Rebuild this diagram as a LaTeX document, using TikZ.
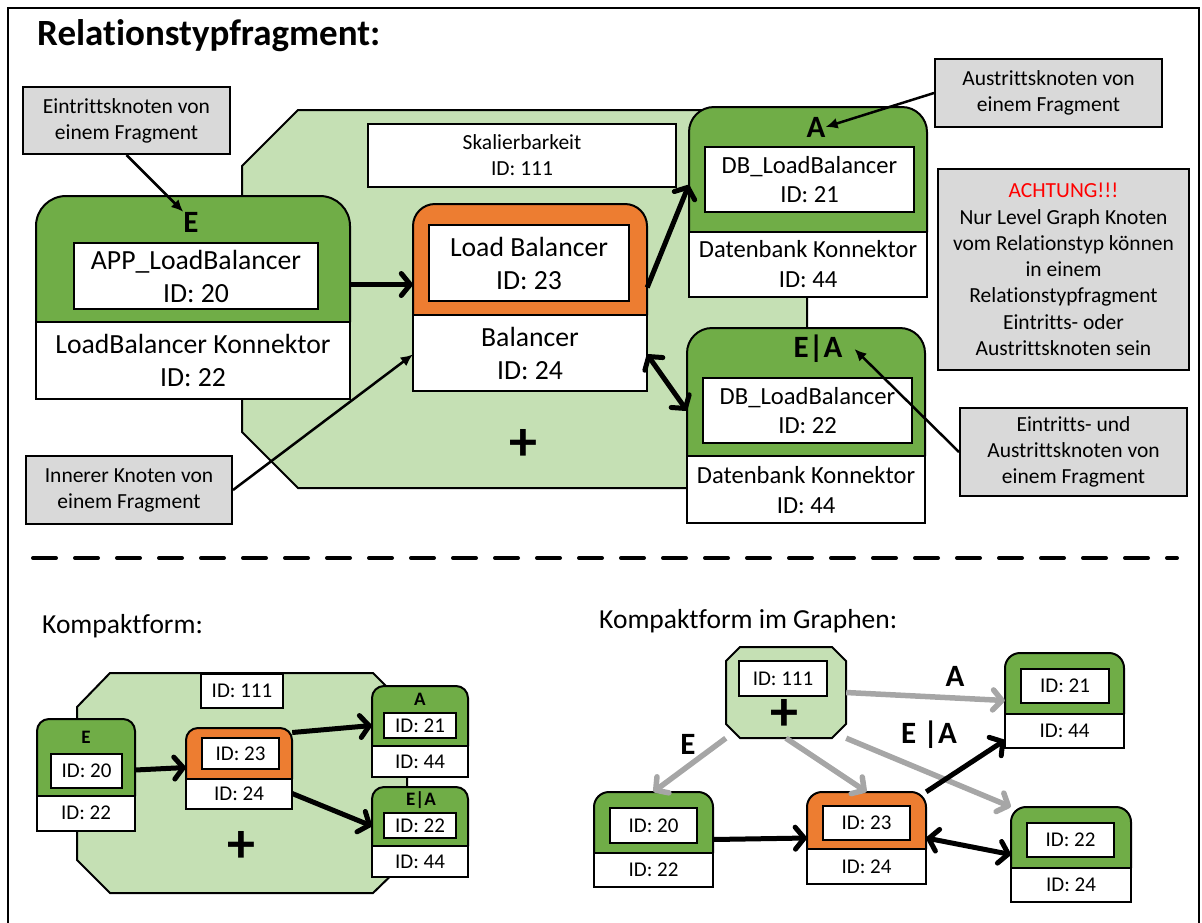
\documentclass[tikz,border=0pt]{standalone}
\usepackage{fontspec}
\setmainfont{Carlito}[Ligatures=NoCommon]
\usetikzlibrary{arrows.meta,fit}

\definecolor{fraggreen}{HTML}{70AD47}
\definecolor{fraglight}{HTML}{C5E0B4}
\definecolor{fragorange}{HTML}{ED7D31}
\definecolor{notegray}{HTML}{D9D9D9}
\definecolor{edgegray}{HTML}{A6A6A6}
\definecolor{warnred}{HTML}{FF0000}

% typed node: coloured head with rounded top corners, white foot
% #1 name, #2 left, #3 top, #4 right, #5 bottom, #6 split, #7 head colour, #8 radius
\newcommand\typenode[8]{%
  \fill[#7, rounded corners=#8pt] (#2,#5) -- (#2,#3) -- (#4,#3) -- (#4,#5) -- cycle;
  \fill[white] (#2,#6) rectangle (#4,#5);
  \draw[outline, rounded corners=#8pt] (#2,#6) -- (#2,#3) -- (#4,#3) -- (#4,#6);
  \draw[outline] (#2,#6) rectangle (#4,#5);
  \node[fit={(#2,#3) (#4,#5)}, inner sep=0pt] (#1) {};
}

\begin{document}
\begin{tikzpicture}[x=1pt,y=-1pt,
  outline/.style={draw=black, line width=2pt},
  box/.style={draw=black, line width=2pt, fill=white, inner sep=0pt, align=center},
  note/.style={draw=black, line width=2pt, fill=notegray, inner sep=0pt, align=center,
               font=\fontsize{21.5}{26}\selectfont},
  txtL/.style={font=\fontsize{27.7}{33}\selectfont, align=center, inner sep=0pt},
  txtM/.style={font=\fontsize{24.6}{29.5}\selectfont, align=center, inner sep=0pt},
  txtS/.style={font=\fontsize{21}{25}\selectfont, align=center, inner sep=0pt},
  tag/.style={font=\fontsize{31}{31}\selectfont\bfseries, inner sep=0pt},
  ctag/.style={font=\fontsize{19}{19}\selectfont\bfseries, inner sep=0pt},
  plus/.style={font=\fontsize{56}{56}\selectfont\bfseries, inner sep=0pt},
  hint/.style={line width=2.5pt, -{Latex[length=12pt,width=11pt]}},
  link/.style={line width=5pt, -{Straight Barb[round,length=9pt,width=22pt]}},
  linkboth/.style={line width=5pt, {Straight Barb[round,length=9pt,width=22pt]}-{Straight Barb[round,length=9pt,width=22pt]}},
  greylink/.style={draw=edgegray, line width=5.5pt, -{Straight Barb[round,length=9pt,width=20pt]}},
]
\useasboundingbox (0,0) rectangle (1202,922);

% frame
\draw[line width=2pt] (8,930) -- (8,8) -- (1199,8) -- (1199,930);

\node[anchor=base west, inner sep=0pt, font=\fontsize{37}{44}\selectfont\bfseries] (title) at (37,45) {Relationstypfragment:};

% ---------------- relation type fragment ----------------
\draw[outline, fill=fraglight] (298,110) -- (751,110) -- (807,166) -- (807,432) -- (751,488)
  -- (298,488) -- (242,432) -- (242,166) -- cycle;
\node[box, line width=1.5pt, minimum width=308pt, minimum height=63pt,
      font=\fontsize{21.5}{26}\selectfont] (skal) at (522,155.5) {Skalierbarkeit\\ID: 111};
\node[plus] (bigplus) at (523,445) {+};

\typenode{enode}{36}{196}{350}{399}{322}{fraggreen}{30}
\node[tag] (elab) at (191,222) {E};
\node[box, txtL, minimum width=244pt, minimum height=66pt] (einner) at (196,276) {APP\_LoadBalancer\\ID: 20};
\node[txtL] (ebottom) at (193,360) {LoadBalancer Konnektor\\ID: 22};

\typenode{lbnode}{413}{204}{647}{391}{315}{fragorange}{22}
\node[box, txtL, minimum width=200pt, minimum height=76pt] (lbinner) at (529,263) {Load Balancer\\ID: 23};
\node[txtL] (lbbottom) at (530,353) {Balancer\\ID: 24};

\typenode{anode}{689}{107}{927}{297}{232}{fraggreen}{25}
\node[tag] (alab) at (816,127) {A};
\node[box, txtM, minimum width=209pt, minimum height=65pt] (ainner) at (809.5,179.5) {DB\_LoadBalancer\\ID: 21};
\node[txtM] (abottom) at (808,264) {Datenbank Konnektor\\ID: 44};

\typenode{eanode}{687}{328}{925}{523}{456}{fraggreen}{25}
\node[tag] (ealab) at (818,349) {E|A};
\node[box, txtM, minimum width=209pt, minimum height=65pt] (eainner) at (807.5,410.5) {DB\_LoadBalancer\\ID: 22};
\node[txtM] (eabottom) at (806,490) {Datenbank Konnektor\\ID: 44};

% notes
\node[note, minimum width=207pt, minimum height=67pt] (noteentry) at (126.5,120.5) {Eintrittsknoten von\\einem Fragment};
\node[note, minimum width=227pt, minimum height=68pt] (noteexit) at (1048.5,93) {Austrittsknoten von\\einem Fragment};
\node[note, minimum width=206pt, minimum height=68pt] (noteinner) at (129,490) {Innerer Knoten von\\einem Fragment};
\node[note, minimum width=227pt, minimum height=88pt] (noteboth) at (1073.5,452) {Eintritts- und\\Austrittsknoten von\\einem Fragment};
\node[note, minimum width=251pt, minimum height=201pt, font=\fontsize{21.5}{26.3}\selectfont] (notewarn) at (1063.5,269.5)
  {\textcolor{warnred}{ACHTUNG!!!}\\Nur Level Graph Knoten\\vom Relationstyp können\\in einem\\Relationstypfragment\\Eintritts- oder\\Austrittsknoten sein};

% connectors
\draw[link] ([yshift=13pt]enode.east) -- ([yshift=13pt]lbnode.west);
\draw[link] ([yshift=10pt]lbnode.east) -- ([yshift=17pt]anode.west);
\draw[linkboth] ([yshift=-57pt]lbnode.east) -- ([yshift=15pt]eanode.west);
\draw[hint] (noteentry.south) -- (elab.north west);
\draw[hint] (noteexit.west) -- (alab.east);
\draw[hint] (noteinner.east) -- ([yshift=-57pt]lbnode.west);
\draw[hint] (noteboth.west) -- ([xshift=12pt]ealab.east);

% separator
\coordinate (sepL) at (33,558);
\coordinate (sepR) at (1177,558);
\draw[line width=4pt, line cap=round, dash pattern=on 23pt off 19pt] (sepL) -- (sepR);

% ---------------- compact form ----------------
\node[anchor=base west, inner sep=0pt, font=\fontsize{27.5}{33}\selectfont] (ktitle) at (42,633) {Kompaktform:};

\draw[outline, fill=fraglight] (110,673) -- (373,673) -- (407,707) -- (407,860) -- (373,893)
  -- (110,893) -- (77,860) -- (77,707) -- cycle;
\node[box, txtS, minimum width=82pt, minimum height=34pt] (cskal) at (242,691) {ID: 111};
\node[plus] (cplus) at (241,847) {+};

\typenode{cE}{37}{719}{135}{831}{796}{fraggreen}{12}
\node[ctag] (cElab) at (86,737) {E};
\node[box, txtS, minimum width=71pt, minimum height=34pt] (cEin) at (86.5,771) {ID: 20};
\node[txtS] (cEbot) at (86,813) {ID: 22};

\typenode{cLB}{186}{728}{292}{809}{779}{fragorange}{12}
\node[box, txtS, minimum width=77pt, minimum height=31pt] (cLBin) at (240.5,753.5) {ID: 23};
\node[txtS] (cLBbot) at (239,794) {ID: 24};

\typenode{cA}{372}{686}{468}{777}{746}{fraggreen}{12}
\node[ctag] (cAlab) at (420,699) {A};
\node[box, txtS, minimum width=72pt, minimum height=25pt] (cAin) at (420,725.5) {ID: 21};
\node[txtS] (cAbot) at (420,762) {ID: 44};

\typenode{cEA}{372}{787}{468}{877}{846}{fraggreen}{12}
\node[ctag] (cEAlab) at (421,800) {E|A};
\node[box, txtS, minimum width=72pt, minimum height=25pt] (cEAin) at (420,825.5) {ID: 22};
\node[txtS] (cEAbot) at (420,862) {ID: 44};

\draw[link] ([yshift=5pt]cE.east) -- ([yshift=1pt]cLB.west);
\draw[link] ([yshift=36pt]cLB.east) -- ([yshift=6pt]cA.west);
\draw[link] ([yshift=-25pt]cLB.east) -- ([yshift=6pt]cEA.west);

% ---------------- compact form inside the graph ----------------
\node[anchor=base west, inner sep=0pt, font=\fontsize{27.5}{33}\selectfont] (gtitle) at (599,628) {Kompaktform im Graphen:};

\draw[outline, fill=fraglight] (740,647) -- (832,647) -- (846,661) -- (846,724) -- (832,738)
  -- (740,738) -- (726,724) -- (726,661) -- cycle;
\node[fit={(726,647) (846,738)}, inner sep=0pt] (gOct) {};
\node[box, txtS, minimum width=88pt, minimum height=35pt] (gskal) at (783,678.5) {ID: 111};
\node[plus] (gplus) at (784,715) {+};

\typenode{gA}{1005}{653}{1124}{748}{714}{fraggreen}{15}
\node[box, txtS, minimum width=88pt, minimum height=34pt] (gAin) at (1065,686) {ID: 21};
\node[txtS] (gAbot) at (1064.5,731) {ID: 44};

\typenode{g20}{594}{792}{713}{887}{853}{fraggreen}{15}
\node[box, txtS, minimum width=87pt, minimum height=35pt] (g20in) at (653.5,825.5) {ID: 20};
\node[txtS] (g20bot) at (653.5,870) {ID: 22};

\typenode{gLB}{807}{792}{926}{884}{849}{fragorange}{15}
\node[box, txtS, minimum width=87pt, minimum height=34pt] (gLBin) at (866.5,823) {ID: 23};
\node[txtS] (gLBbot) at (866.5,867) {ID: 24};

\typenode{g22}{1011}{807}{1131}{902}{868}{fraggreen}{15}
\node[box, txtS, minimum width=87pt, minimum height=34pt] (g22in) at (1070.5,840) {ID: 22};
\node[txtS] (g22bot) at (1071,885) {ID: 24};

\node[tag] (gAtag) at (955,676) {A};
\node[tag] (gEtag) at (688,744) {E};
\node[tag] (gEAtag) at (929,735) {E |A};

\draw[greylink] (gOct.east) -- (gA.west);
\draw[greylink] (gOct.south west) -- (g20.north);
\draw[greylink] (gOct.south) -- (gLB.north);
\draw[greylink] (gOct.south east) -- (g22.north west);

\draw[link] (g20.east) -- (gLB.west);
\draw[link] (gLB.north east) -- ([yshift=8pt]gA.south west);
\draw[linkboth] (gLB.east) -- (g22.west);

\end{tikzpicture}
\end{document}
